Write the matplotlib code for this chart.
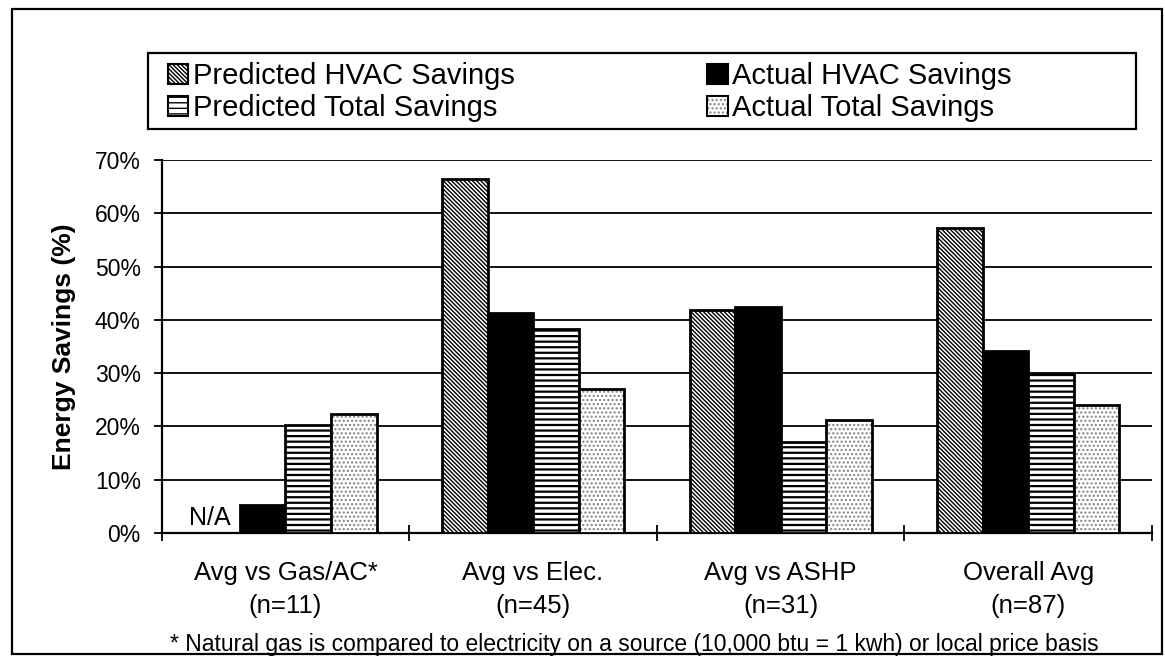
import matplotlib
matplotlib.use('Agg')
import matplotlib.pyplot as plt
from matplotlib.patches import Patch, Rectangle
import numpy as np

categories = ['Avg vs Gas/AC*', 'Avg vs Elec.', 'Avg vs ASHP', 'Overall Avg']
sample_sizes = ['(n=11)', '(n=45)', '(n=31)', '(n=87)']
pred_hvac = [np.nan, 66.5, 41.9, 57.2]
actual_hvac = [5.2, 41.2, 42.4, 34.1]
pred_total = [20.2, 38.3, 17.1, 29.8]
actual_total = [22.3, 27.1, 21.2, 24.1]
yticks = [0, 10, 20, 30, 40, 50, 60, 70]
series_names = ['Predicted HVAC Savings', 'Actual HVAC Savings',
                'Predicted Total Savings', 'Actual Total Savings']
footnote = '* Natural gas is compared to electricity on a source (10,000 btu = 1 kwh) or local price basis'

plt.rcParams['font.family'] = ['Liberation Sans', 'DejaVu Sans']

W, H = 1165, 659
fig = plt.figure(figsize=(W / 100, H / 100), dpi=100)

def fx(px):
    return px / W

def fy(py):
    return 1 - py / H

left, right, top, bottom = 161.7, 1152, 160, 533
ax = fig.add_axes([fx(left), fy(bottom), fx(right - left), (bottom - top) / H])

x = np.arange(len(categories))
w = 0.184
lw = 2.0
diag = '\\' * 8

with plt.rc_context({'hatch.linewidth': 1.0}):
    ax.bar(x - 1.5 * w, pred_hvac, w, color='white', edgecolor='black', hatch=diag, lw=lw, zorder=3)
    h_diag = Patch(facecolor='white', edgecolor='black', hatch=diag, lw=1.5)
ax.bar(x - 0.5 * w, actual_hvac, w, color='black', edgecolor='black', lw=lw, zorder=3)
with plt.rc_context({'hatch.linewidth': 1.6}):
    ax.bar(x + 0.5 * w, pred_total, w, color='white', edgecolor='black', hatch='---', lw=lw, zorder=3)
    h_horiz = Patch(facecolor='white', edgecolor='black', hatch='---', lw=1.5)
with plt.rc_context({'hatch.linewidth': 1.0}):
    ax.bar(x + 1.5 * w, actual_total, w, color='white', edgecolor='0.5', hatch='....', lw=0, zorder=3)
    h_dots = Patch(facecolor='white', edgecolor='0.5', hatch='....', lw=0)
ax.bar(x + 1.5 * w, actual_total, w, color='none', edgecolor='black', lw=lw, zorder=4)

ax.text(x[0] - 1.5 * w - 0.03, 0.5, 'N/A', ha='center', va='bottom', fontsize=18, zorder=5)

ax.set_xlim(-0.5, len(categories) - 0.5)
ax.set_ylim(0, 70)
ax.set_yticks(yticks)
ax.set_yticklabels([f'{v}%' for v in yticks])
ax.yaxis.grid(True, color='black', lw=1.3)
ax.set_axisbelow(True)

ax.set_xticks(x)
ax.set_xticklabels([f'{c}\n{n}' for c, n in zip(categories, sample_sizes)],
                   fontsize=18.5, linespacing=1.5)
ax.tick_params(axis='x', which='major', length=0, pad=20)
ax.set_xticks(np.arange(-0.5, len(categories)), minor=True)
ax.tick_params(axis='x', which='minor', length=12, width=1.3, direction='inout')
ax.tick_params(axis='y', length=6, width=1.3, pad=9, labelsize=16.5)

for s in ['top', 'right']:
    ax.spines[s].set_visible(False)
for s in ['left', 'bottom']:
    ax.spines[s].set_linewidth(1.6)

ax.set_ylabel('Energy Savings (%)', fontsize=19, fontweight='bold')
ax.yaxis.set_label_coords((76 - left) / (right - left), 0.5)

# legend
handles = [h_diag, h_horiz,
           Patch(facecolor='black', edgecolor='black', lw=1.5),
           (h_dots, Patch(facecolor='none', edgecolor='black', lw=1.5))]
labels = [series_names[0], series_names[2], series_names[1], series_names[3]]
lx0, ly0, lx1, ly1 = 148, 53, 1136, 129
fig.add_artist(Rectangle((fx(lx0), fy(ly1)), fx(lx1 - lx0), (ly1 - ly0) / H,
                         transform=fig.transFigure, fill=False, ec='black', lw=1.6))
leg = fig.legend(handles, labels, ncol=2, loc='upper left',
                 bbox_to_anchor=(fx(168), fy(62)),
                 borderaxespad=0, borderpad=0, fontsize=21, frameon=False,
                 handlelength=0.7, handleheight=0.7, handletextpad=0.15,
                 labelspacing=0.15, columnspacing=6.6)

fig.text(fx(634), fy(651), footnote, ha='center', va='baseline', fontsize=16.5)

# outer frame
fig.add_artist(Rectangle((fx(12), fy(654)), fx(1150), (654 - 9) / H,
                         transform=fig.transFigure, fill=False, ec='black', lw=1.6))

fig.savefig('out.png', dpi=100)
